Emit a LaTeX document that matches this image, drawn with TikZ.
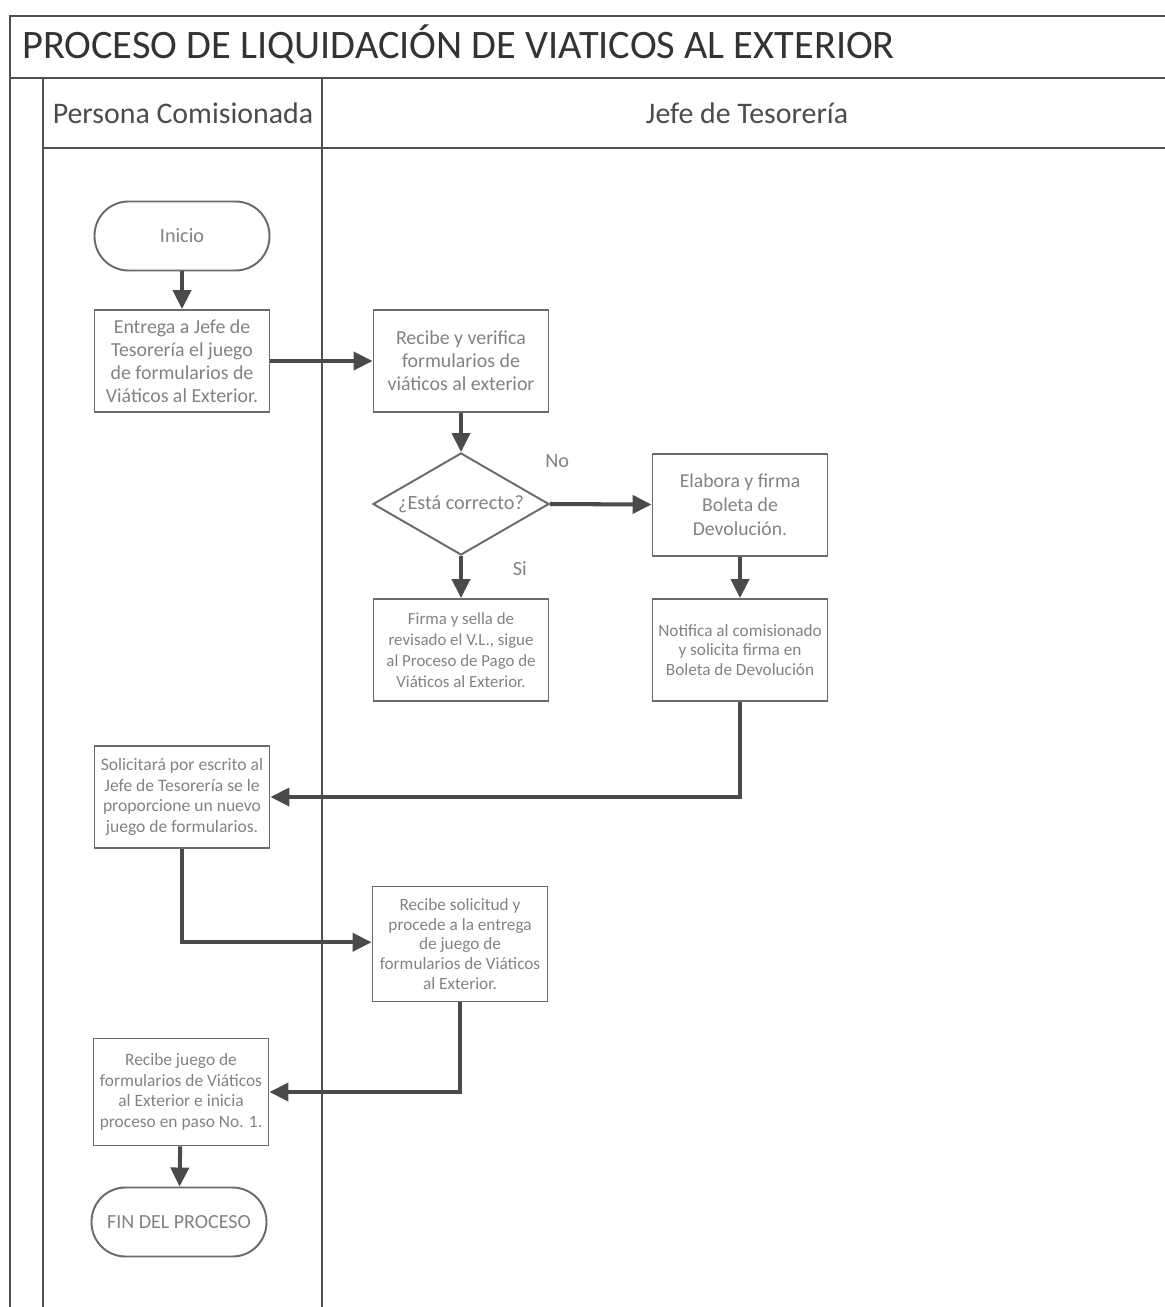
\documentclass[tikz,border=0pt]{standalone}
\usepackage{fontspec}
\setmainfont{Carlito}
\usepackage{xcolor}
\usetikzlibrary{shapes.geometric,arrows.meta}

\definecolor{lanegray}{HTML}{505050}
\definecolor{boxgray}{HTML}{6A6A6A}
\definecolor{textgray}{HTML}{828282}
\definecolor{arrowgray}{HTML}{4A4A4A}

\tikzset{
  caja/.style={draw=boxgray, line width=1.1pt, text=textgray, align=center,
    minimum width=3.5cm, minimum height=2.04cm, inner sep=1pt},
  terminal/.style={caja, rounded corners=0.68cm, minimum height=1.38cm},
  decision/.style={draw=boxgray, line width=1.1pt, text=textgray, diamond,
    aspect=1.73, inner sep=0pt, minimum width=3.52cm, minimum height=2.04cm},
  flecha/.style={draw=arrowgray, line width=2.3pt,
    -{Triangle[length=0.38cm,width=0.36cm]}},
  carril/.style={draw=lanegray, line width=0.8pt}
}

\begin{document}
\begin{tikzpicture}[x=0.02cm, y=-0.02cm]
	 \useasboundingbox (0,0) rectangle (1165,1307);
	 % marco y carriles
	 \draw[carril] (1165,16) -- (10,16) -- (10,1307);
	 \draw[carril] (10,78) -- (1165,78);
	 \draw[carril] (43,78) -- (43,1307);
	 \draw[carril] (322,78) -- (322,1307);
	 \draw[carril] (43,148) -- (1165,148);
	 \node[anchor=west, text=black!80, font=\fontsize{23}{27}\selectfont] (titulo) at (16,44) {PROCESO DE LIQUIDACIÓN DE VIATICOS AL EXTERIOR};
	 \node[text=black!70, font=\fontsize{17}{20}\selectfont] (persona) at (183,113) {Persona Comisionada};
	 \node[text=black!70, font=\fontsize{17}{20}\selectfont] (jefe) at (747,113) {Jefe de Tesorería};

	 % nodos
	 \node[terminal, font=\fontsize{11.5}{13}\selectfont] (inicio) at (182,236) {Inicio};
	 \node[caja, font=\fontsize{11.3}{13}\selectfont] (entrega) at (182,361) {Entrega a Jefe de\\Tesorería el juego\\de formularios de\\Viáticos al Exterior.};
	 \node[caja, font=\fontsize{11.3}{13}\selectfont] (verifica) at (461,361) {Recibe y verifica\\formularios de\\viáticos al exterior};
	 \node[decision, font=\fontsize{11.5}{13}\selectfont] (correcto) at (461,504) {¿Está correcto?};
	 \node[caja, font=\fontsize{11.2}{13.6}\selectfont] (elabora) at (740,505) {Elabora y firma\\Boleta de\\Devolución.};
	 \node[caja, font=\fontsize{9.6}{11.9}\selectfont] (firma) at (461,650) {Firma y sella de\\revisado el V.L., sigue\\al Proceso de Pago de\\Viáticos al Exterior.};
	 \node[caja, font=\fontsize{9.8}{11.3}\selectfont] (notifica) at (740,650) {Notifica al comisionado\\y solicita firma en\\Boleta de Devolución};
	 \node[caja, font=\fontsize{10}{11.8}\selectfont] (solicita) at (182,797) {Solicitará por escrito al\\Jefe de Tesorería se le\\proporcione un nuevo\\juego de formularios.};
	 \node[caja, minimum height=2.3cm, font=\fontsize{9.8}{11.3}\selectfont] (solicitud) at (460,944) {Recibe solicitud y\\procede a la entrega\\de juego de\\formularios de Viáticos\\al Exterior.};
	 \node[caja, minimum height=2.14cm, font=\fontsize{9.9}{11.7}\selectfont] (recibe) at (181,1092) {Recibe juego de\\formularios de Viáticos\\al Exterior e inicia\\proceso en paso No. 1.};
	 \node[terminal, font=\fontsize{11.4}{13}\selectfont] (fin) at (179,1222) {FIN DEL PROCESO};

	 % conectores
	 \draw[flecha] (inicio) -- (entrega);
	 \draw[flecha] (entrega) -- (verifica);
	 \draw[flecha] (verifica) -- (correcto);
	 \draw[flecha] (correcto.east) -- node[pos=0, anchor=south west, yshift=16pt, xshift=-0.25cm, text=textgray, font=\fontsize{11.5}{13}\selectfont] (no) {No} (elabora);
	 \draw[flecha] (correcto.south) -- node[pos=0.3, anchor=west, xshift=25pt, text=textgray, font=\fontsize{11.5}{13}\selectfont] (si) {Si} (firma);
	 \draw[flecha] (elabora) -- (notifica);
	 \draw[flecha] (notifica.south) |- (solicita.east);
	 \draw[flecha] (solicita.south) |- ([yshift=1pt]solicitud.west);
	 \draw[flecha] (solicitud.south) |- (recibe.east);
	 \draw[flecha] (recibe) -- (fin);
\end{tikzpicture}
\end{document}
